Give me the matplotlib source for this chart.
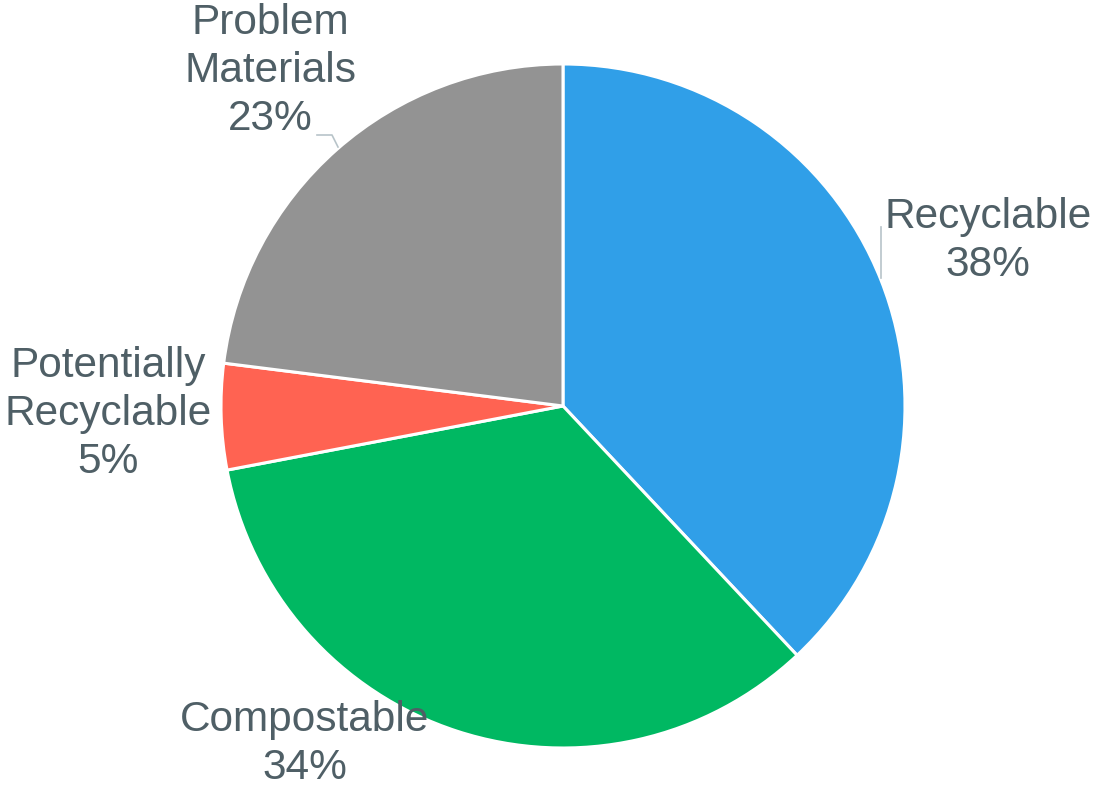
import matplotlib.pyplot as plt

# 垃圾成分占比
categories = ['Recyclable', 'Compostable', 'Potentially\nRecyclable', 'Problem\nMaterials']
values = [38, 34, 5, 23]
colors = ['#309fe8', '#00b862', '#ff6352', '#939393']

plt.rcParams['font.family'] = ['Liberation Sans', 'DejaVu Sans']

fig = plt.figure(figsize=(10.93, 7.87), dpi=100)
ax = fig.add_axes([0, 0, 1, 1])

# 饼图 从正上方开始顺时针
ax.pie(values, colors=colors, startangle=90, counterclock=False,
       center=(563, 381), radius=342, frame=True,
       wedgeprops=dict(edgecolor='white', linewidth=2.2))
ax.set_xlim(0, 1093)
ax.set_ylim(0, 787)
ax.set_aspect('equal')
ax.axis('off')

# 标签位置
label_pos = [(988, 546), (305, 43), (108, 373), (270, 716)]
text_color = '#4f5f66'
for name, v, (x, y) in zip(categories, values, label_pos):
    ax.text(x, y, f'{name}\n{v}%', ha='center', va='center',
            fontsize=30.5, color=text_color, linespacing=1.26)

# 引导线
line_color = '#b8c4c9'
ax.plot([881, 881], [560, 509], color=line_color, lw=1.2)
ax.plot([317, 332, 338], [652, 652, 640], color=line_color, lw=1.2)

plt.savefig('out.png', dpi=100)
